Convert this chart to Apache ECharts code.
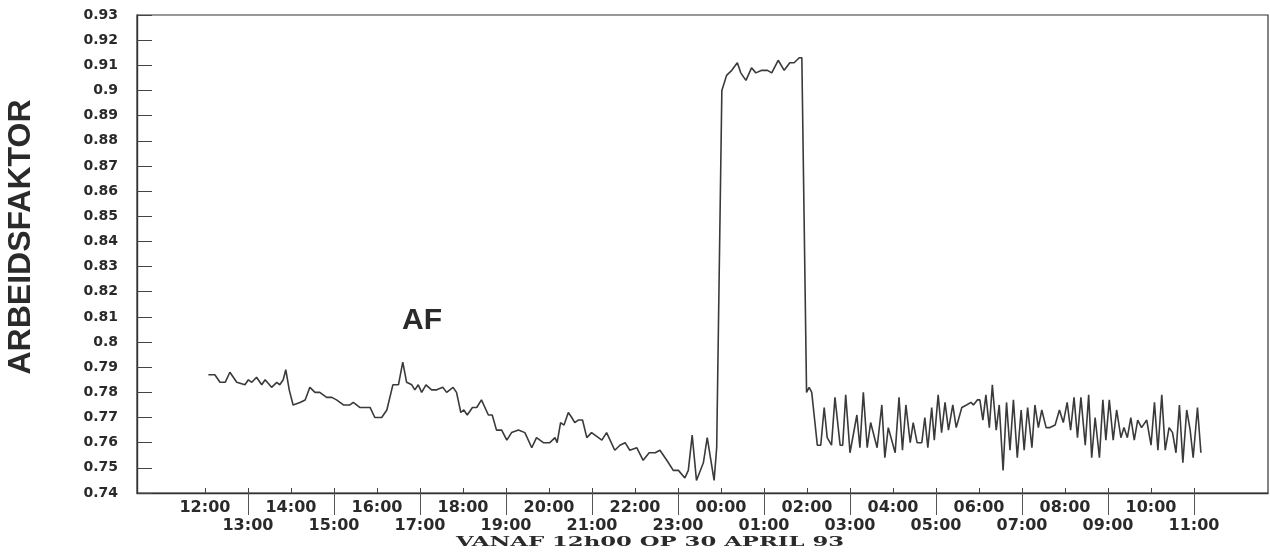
<!DOCTYPE html>
<html><head><meta charset="utf-8">
<script src="https://cdn.jsdelivr.net/npm/echarts@6/dist/echarts.min.js"></script>
<style>html,body{margin:0;padding:0;background:#fff}#c{width:1270px;height:554px}</style>
</head><body><div id="c"></div>
<script>
// ---- data ----
const hourLabels = ["12:00","13:00","14:00","15:00","16:00","17:00","18:00","19:00","20:00","21:00","22:00","23:00",
                    "00:00","01:00","02:00","03:00","04:00","05:00","06:00","07:00","08:00","09:00","10:00","11:00"];
const yTitle = "ARBEIDSFAKTOR";
const seriesName = "AF";
const xTitle = "VANAF 12h00 OP 30 APRIL 93";
const yMin = 0.74, yMax = 0.93, yStep = 0.01;

// hours after 12:00 on 30 April 93
const times = [
 0.08,0.23,0.35,0.47,0.58,0.74,0.93,1.01,1.09,1.20,
 1.32,1.40,1.55,1.67,1.74,1.82,1.88,1.96,2.05,2.21,
 2.33,2.44,2.56,2.67,2.83,2.95,3.06,3.22,3.37,3.45,
 3.60,3.72,3.84,3.95,4.11,4.23,4.37,4.50,4.60,4.69,
 4.81,4.88,4.96,5.04,5.14,5.27,5.39,5.53,5.62,5.77,
 5.85,5.95,6.02,6.10,6.22,6.32,6.43,6.59,6.68,6.78,
 6.90,7.02,7.13,7.29,7.44,7.60,7.71,7.87,8.02,8.14,
 8.19,8.27,8.35,8.45,8.53,8.60,8.68,8.78,8.88,8.99,
 9.15,9.23,9.34,9.53,9.65,9.77,9.88,10.04,10.19,10.33,
 10.47,10.58,10.74,10.89,11.01,11.16,11.24,11.33,11.43,11.59,
 11.68,11.84,11.90,
 12.02,12.13,12.25,12.38,12.46,12.58,12.71,12.81,12.95,13.08,
 13.18,13.33,13.47,13.60,13.70,13.82,13.88,
 13.99,14.05,14.11,14.24,14.32,14.40,14.47,14.57,14.65,14.77,
 14.83,14.90,15.00,15.16,15.23,15.31,15.40,15.48,15.63,15.74,
 15.81,15.89,16.05,16.14,16.22,16.30,16.40,16.47,16.56,16.67,
 16.74,16.81,16.90,16.96,17.05,17.13,17.21,17.29,17.39,17.47,
 17.60,17.71,17.81,17.87,17.96,18.02,18.09,18.16,18.24,18.31,
 18.40,18.47,18.56,18.64,18.72,18.80,18.89,18.98,19.05,19.13,
 19.23,19.30,19.38,19.46,19.56,19.65,19.77,19.87,19.96,20.05,
 20.13,20.21,20.29,20.37,20.47,20.55,20.62,20.70,20.80,20.88,
 20.95,21.03,21.12,21.20,21.30,21.37,21.45,21.53,21.61,21.69,
 21.78,21.90,22.00,22.08,22.16,22.25,22.33,22.42,22.50,22.58,
 22.66,22.74,22.83,22.91,22.98,23.08,23.16
];
const values = [
 0.787,0.787,0.784,0.784,0.788,0.784,0.783,0.785,0.784,0.786,
 0.783,0.785,0.782,0.784,0.783,0.785,0.789,0.781,0.775,0.776,
 0.777,0.782,0.780,0.780,0.778,0.778,0.777,0.775,0.775,0.776,
 0.774,0.774,0.774,0.770,0.770,0.773,0.783,0.783,0.792,0.784,
 0.783,0.781,0.783,0.780,0.783,0.781,0.781,0.782,0.780,0.782,
 0.780,0.772,0.773,0.771,0.774,0.774,0.777,0.771,0.771,0.765,
 0.765,0.761,0.764,0.765,0.764,0.758,0.762,0.760,0.760,0.762,
 0.760,0.768,0.767,0.772,0.770,0.768,0.769,0.769,0.762,0.764,
 0.762,0.761,0.764,0.757,0.759,0.760,0.757,0.758,0.753,0.756,
 0.756,0.757,0.753,0.749,0.749,0.746,0.749,0.763,0.745,0.752,
 0.762,0.745,0.758,
 0.900,0.906,0.908,0.911,0.907,0.904,0.909,0.907,0.908,0.908,
 0.907,0.912,0.908,0.911,0.911,0.913,0.913,
 0.780,0.782,0.780,0.759,0.759,0.774,0.762,0.759,0.778,0.759,
 0.759,0.779,0.756,0.771,0.758,0.780,0.758,0.768,0.758,0.775,
 0.754,0.766,0.756,0.778,0.757,0.775,0.760,0.768,0.760,0.760,
 0.770,0.758,0.774,0.761,0.779,0.764,0.776,0.765,0.775,0.766,
 0.774,0.775,0.776,0.775,0.777,0.777,0.769,0.779,0.766,0.783,
 0.765,0.775,0.749,0.776,0.757,0.777,0.754,0.773,0.757,0.774,
 0.758,0.775,0.766,0.773,0.766,0.766,0.767,0.773,0.768,0.776,
 0.765,0.778,0.762,0.778,0.759,0.779,0.754,0.770,0.754,0.777,
 0.761,0.777,0.761,0.773,0.762,0.766,0.762,0.770,0.761,0.769,
 0.766,0.769,0.759,0.776,0.757,0.779,0.757,0.766,0.764,0.756,
 0.775,0.752,0.773,0.765,0.754,0.774,0.756
];

// ---- chart ----
const X_MIN = -1.58, X_MAX = 24.72;
const allHours = hourLabels.map((_, i) => i);
const evenHours = allHours.filter(i => i % 2 === 0);
const oddHours = allHours.filter(i => i % 2 === 1);
const ink = '#2a2a2a';
const tickFont = { fontFamily: 'DejaVu Sans', fontWeight: 'bold', color: ink };
const hourFmt = v => hourLabels[Math.round(v)] || '';

const chart = echarts.init(document.getElementById('c'), null, { renderer: 'canvas' });
chart.setOption({
  animation: false,
  backgroundColor: '#fff',
  grid: { left: 137, top: 15, right: 2, bottom: 61, show: true, borderColor: '#333', borderWidth: 1.2 },
  xAxis: [
    { type: 'value', min: X_MIN, max: X_MAX, position: 'bottom',
      axisLine: { show: true, onZero: false, lineStyle: { color: '#333', width: 1.4 } },
      axisTick: { show: true, inside: true, length: 5, customValues: allHours, lineStyle: { color: '#444', width: 1 } },
      axisLabel: { customValues: evenHours, formatter: hourFmt, margin: 7, fontSize: 16, ...tickFont },
      splitLine: { show: false } },
    { type: 'value', min: X_MIN, max: X_MAX, position: 'bottom',
      axisLine: { show: false, onZero: false },
      axisTick: { show: true, inside: false, length: 22, customValues: oddHours, lineStyle: { color: '#555', width: 1 } },
      axisLabel: { customValues: oddHours, formatter: hourFmt, margin: 25, fontSize: 16, ...tickFont },
      splitLine: { show: false } }
  ],
  yAxis: {
    type: 'value', min: yMin, max: yMax, interval: yStep,
    axisLine: { show: true, onZero: false, lineStyle: { color: '#333', width: 1.4 } },
    axisTick: { show: true, inside: true, length: 15, lineStyle: { color: '#444', width: 1 } },
    axisLabel: { margin: 19, fontSize: 14, formatter: v => String(+v.toFixed(2)), ...tickFont },
    splitLine: { show: false }
  },
  series: [{
    name: seriesName, type: 'line', xAxisIndex: 0,
    data: times.map((t, i) => [t, values[i]]),
    showSymbol: false, smooth: false,
    lineStyle: { color: '#3a3a3a', width: 1.6 }
  }],
  graphic: [
    { type: 'text', x: 21, y: 237, rotation: Math.PI / 2,
      style: { text: yTitle, fontFamily: 'Liberation Sans', fontWeight: 'bold', fontSize: 32, fill: ink, align: 'center', verticalAlign: 'middle' } },
    { type: 'text', x: 422, y: 321,
      style: { text: seriesName, fontFamily: 'Liberation Sans', fontWeight: 'bold', fontSize: 30, fill: ink, align: 'center', verticalAlign: 'middle' } },
    { type: 'text', x: 650, y: 543, scaleX: 1.75,
      style: { text: xTitle, fontFamily: 'DejaVu Serif', fontWeight: 'bold', fontSize: 13, fill: ink, align: 'center', verticalAlign: 'middle' } }
  ]
});
</script></body></html>
